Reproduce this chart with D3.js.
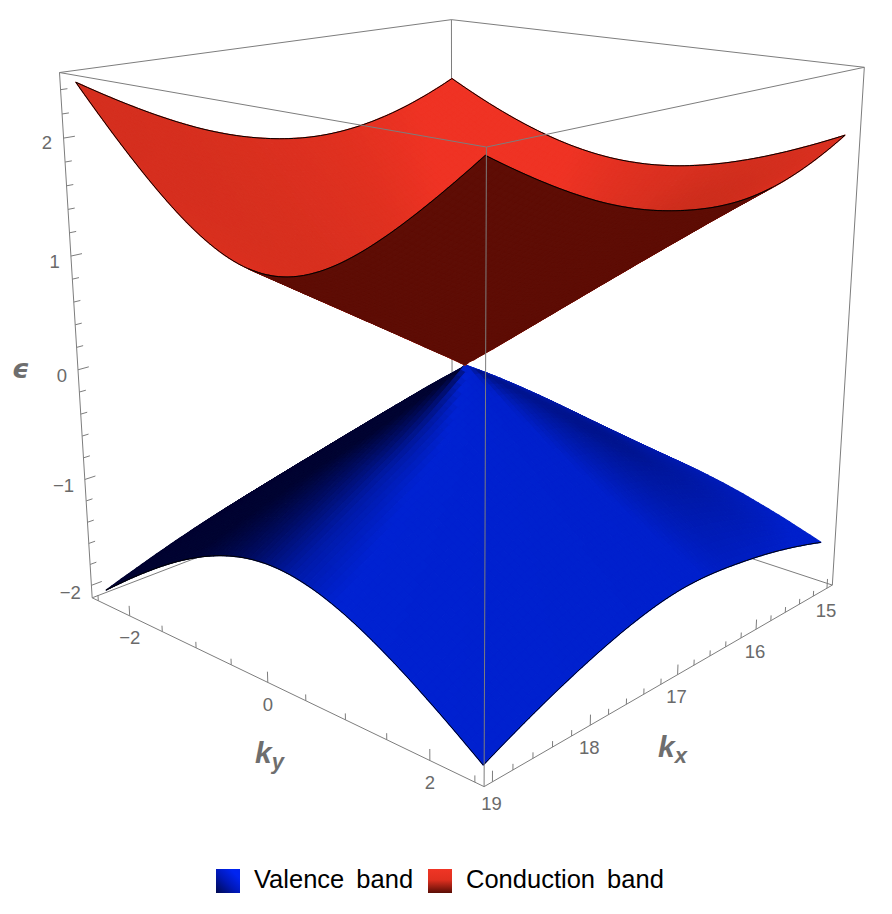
<!DOCTYPE html>
<html><head><meta charset="utf-8">
<style>html,body{margin:0;padding:0;background:#fff}svg{display:block}</style>
<script src="https://cdn.jsdelivr.net/npm/d3@7"></script></head>
<body><div id="chart"></div>
<script>
// ---------- data ----------
const kxSamples = [15, 16, 17, 18, 19];
const kySamples = [-2.5, -2, -1.5, -1, -0.5, 0, 0.5, 1, 1.5, 2, 2.5];
const conductionBand = [
  [1.973, 1.799, 1.652, 1.538, 1.465, 1.44, 1.465, 1.538, 1.652, 1.799, 1.973],
  [1.69, 1.404, 1.132, 0.889, 0.704, 0.63, 0.704, 0.889, 1.132, 1.404, 1.69],
  [1.68, 1.344, 1.008, 0.672, 0.336, 0.00, 0.342, 0.684, 1.026, 1.368, 1.71],
  [1.96, 1.613, 1.279, 0.974, 0.731, 0.63, 0.733, 0.98, 1.29, 1.629, 1.98],
  [2.46, 2.106, 1.783, 1.51, 1.32, 1.25, 1.32, 1.51, 1.783, 2.106, 2.46]
];
const valenceBand = [
  [-1.703, -1.57, -1.458, -1.372, -1.318, -1.30, -1.318, -1.372, -1.458, -1.57, -1.703],
  [-1.50, -1.256, -1.028, -0.826, -0.677, -0.62, -0.677, -0.826, -1.028, -1.256, -1.50],
  [-1.55, -1.24, -0.93, -0.62, -0.31, 0.00, -0.29, -0.58, -0.87, -1.16, -1.45],
  [-1.75, -1.448, -1.161, -0.902, -0.701, -0.62, -0.692, -0.874, -1.113, -1.379, -1.66],
  [-2.048, -1.776, -1.53, -1.328, -1.19, -1.14, -1.188, -1.321, -1.517, -1.755, -2.02]
];
const kxDomain = [14.92, 19.08];
const kyDomain = [-2.6, 2.6];
const epsDomain = [-2.12, 2.54];
const kxTicks = d3.range(15, 19.01, 0.2).map(v => +v.toFixed(1));
const kyTicks = d3.range(-2.5, 2.51, 0.5);
const epsTicks = d3.range(-2, 2.41, 0.2).map(v => +v.toFixed(1));
const kxTickLabels = [15, 16, 17, 18, 19];
const kyTickLabels = [-2, 0, 2];
const epsTickLabels = [-2, -1, 0, 1, 2];
const legendLabels = ["Valence band", "Conduction band"];

// ---------- camera: where the box corners land on the page ----------
const W = 892, H = 914;
const boxAnchors = [
  [1,0,0, 92.3,599.3],[1,0,1, 59.3,72.7],
  [1,1,0, 484.3,785.3],[1,1,1, 486.3,146.3],
  [0,1,0, 832.3,586.7],[0,1,1, 864.3,67.3],
  [0,0,0, 452,458],[0,0,1, 451.7,20]
];
function solveCamera(anchors){
  const A=[],b=[];
  anchors.forEach(([a,c,e,x,y])=>{
    x/=1000;y/=1000;
    A.push([a,c,e,1,0,0,0,0,-x*a,-x*c,-x*e]);b.push(x);
    A.push([0,0,0,0,a,c,e,1,-y*a,-y*c,-y*e]);b.push(y);
  });
  const n=11,M=d3.range(n).map(i=>d3.range(n+1).map(j=>{
    if(j<n)return d3.sum(A,r=>r[i]*r[j]);
    return d3.sum(A,(r,k)=>r[i]*b[k]);
  }));
  for(let i=0;i<n;i++){
    let p=i;for(let r=i+1;r<n;r++)if(Math.abs(M[r][i])>Math.abs(M[p][i]))p=r;
    [M[i],M[p]]=[M[p],M[i]];
    for(let r=0;r<n;r++){if(r===i)continue;const f=M[r][i]/M[i][i];
      for(let c=i;c<=n;c++)M[r][c]-=f*M[i][c];}
  }
  return d3.range(n).map(i=>M[i][n]/M[i][i]);
}
const cam=solveCamera(boxAnchors);
const xN=d3.scaleLinear().domain(kxDomain).range([0,1]);
const yN=d3.scaleLinear().domain(kyDomain).range([0,1]);
const zN=d3.scaleLinear().domain(epsDomain).range([0,1]);
function project(kx,ky,e){
  const a=xN(kx),c=yN(ky),z=zN(e);
  const w=cam[8]*a+cam[9]*c+cam[10]*z+1;
  return [1000*(cam[0]*a+cam[1]*c+cam[2]*z+cam[3])/w,
          1000*(cam[4]*a+cam[5]*c+cam[6]*z+cam[7])/w, w];
}

// ---------- smooth sampling of the read values (on the squared band) ----------
function cr(p0,p1,p2,p3,t){
  return 0.5*(2*p1+(p2-p0)*t+(2*p0-5*p1+4*p2-p3)*t*t+(3*p1-p0-3*p2+p3)*t*t*t);
}
function at(arr,i){
  const n=arr.length;
  if(i<0)return 3*arr[0]-3*arr[1]+arr[2];
  if(i>=n)return 3*arr[n-1]-3*arr[n-2]+arr[n-3];
  return arr[i];
}
function sampler(grid,sign){
  const sq=grid.map(r=>r.map(v=>v*v));
  return function(kx,ky){
    const fx=(kx-kxSamples[0])/(kxSamples[1]-kxSamples[0]);
    const fy=(ky-kySamples[0])/(kySamples[1]-kySamples[0]);
    const ix=Math.min(Math.floor(fx),kxSamples.length-2),iy=Math.min(Math.floor(fy),kySamples.length-2);
    const tx=fx-ix,ty=fy-iy;
    const col=[-1,0,1,2].map(d=>{
      const row=d3.range(iy-1,iy+3).map(j=>{
        const rowAt=q=>at(sq.map(r=>r[q]),ix+d);
        const m=kySamples.length;
        if(j<0)return 3*rowAt(0)-3*rowAt(1)+rowAt(2);
        if(j>=m)return 3*rowAt(m-1)-3*rowAt(m-2)+rowAt(m-3);
        return rowAt(j);
      });
      return cr(row[0],row[1],row[2],row[3],ty);
    });
    return sign*Math.sqrt(Math.max(0,cr(col[0],col[1],col[2],col[3],tx)));
  };
}

// ---------- shading ----------
const blueShade=d3.scaleLinear()
  .domain([-0.8,-0.68,-0.55,0.1,0.3,0.52,0.7])
  .range(["#000850","#00179c","#0020cc","#0022d2","#001aa8","#000c62","#000432"])
  .clamp(true);
const redShade=d3.scaleLinear()
  .domain([-0.95,-0.55,-0.2,0.4,0.68,0.85,1])
  .range(["#d42f1f","#e03120","#ef3324","#ef3324","#d93020","#ba2a18","#962212"])
  .clamp(true);
const undersideColor="#5e0d05";

const nK=80;
const svg=d3.select("#chart").append("svg").attr("width",W).attr("height",H);

function surfaceCells(f,shade,showUnder){
  const kxs=d3.range(nK+1).map(i=>15+4*i/nK), kys=d3.range(nK+1).map(i=>-2.5+5*i/nK);
  const Z=kxs.map(x=>kys.map(y=>f(x,y)));
  const P=kxs.map((x,i)=>kys.map((y,j)=>project(x,y,Z[i][j])));
  const ref=[project(15,-2.5,0),project(19,-2.5,0),project(19,2.5,0)];
  const area=(a,b,c)=>(b[0]-a[0])*(c[1]-a[1])-(b[1]-a[1])*(c[0]-a[0]);
  const upSign=Math.sign(area(ref[0],ref[1],ref[2]));
  const cells=[];
  const du=(4/nK)/2,dv=(5/nK)/2.5,dw=2.3;
  for(let i=0;i<nK;i++)for(let j=0;j<nK;j++){
    const q=[P[i][j],P[i+1][j],P[i+1][j+1],P[i][j+1]];
    const s=area(q[0],q[1],q[2])+area(q[0],q[2],q[3]);
    const gu=((Z[i+1][j]+Z[i+1][j+1]-Z[i][j]-Z[i][j+1])/2)/du/dw;
    const gv=((Z[i][j+1]+Z[i+1][j+1]-Z[i][j]-Z[i+1][j])/2)/dv/dw;
    const len=Math.hypot(gu,gv,1);
    const d=(-gu+gv)/len;
    const up=Math.sign(s)===upSign;
    cells.push({q,depth:d3.mean(q,p=>p[2]),
      fill:(up||!showUnder)?shade(d):undersideColor});
  }
  return cells.sort((a,b)=>b.depth-a.depth);
}
const line=d3.line();
const cellPath=c=>line(c.q.map(p=>[p[0],p[1]]))+"Z";
const gridGray="#7d7d7d";

function seg(g,a,b,w,col){
  const p=project(...a),q=project(...b);
  g.append("line").attr("x1",p[0]).attr("y1",p[1]).attr("x2",q[0]).attr("y2",q[1])
   .attr("stroke",col||gridGray).attr("stroke-width",w||1);
}
const [x0,x1]=kxDomain,[y0,y1]=kyDomain,[z0,z1]=epsDomain;

// back of the box
const back=svg.append("g");
seg(back,[x0,y0,z0],[x0,y0,z1]);
seg(back,[x0,y0,z0],[x1,y0,z0]);
seg(back,[x0,y0,z0],[x0,y1,z0]);
seg(back,[x0,y0,z1],[x1,y0,z1]);
seg(back,[x0,y0,z1],[x0,y1,z1]);

// surfaces
const fCond=sampler(conductionBand,1), fVal=sampler(valenceBand,-1);
[[fVal,blueShade,false],[fCond,redShade,true]].forEach(([f,sh,u])=>{
  svg.append("g").selectAll("path").data(surfaceCells(f,sh,u)).join("path")
    .attr("d",cellPath).attr("fill",d=>d.fill).attr("stroke",d=>d.fill).attr("stroke-width",1.2).attr("stroke-linejoin","round");
});

// surface edges
const edgeLine=d3.line();
const steps=d3.range(0,nK+1).map(i=>i/nK);
const edgeSets=[
  [fVal,[t=>[19,-2.5+5*t],t=>[15+4*t,2.5]]],
  [fCond,[t=>[19,-2.5+5*t],t=>[15+4*t,2.5],t=>[15,-2.5+5*t],t=>[15+4*t,-2.5]]]
];
const edges=svg.append("g");
edgeSets.forEach(([f,list])=>list.forEach(e=>{
  edges.append("path").attr("fill","none").attr("stroke","#000").attr("stroke-width",1)
    .attr("d",edgeLine(steps.map(t=>{const [a,b]=e(t);const p=project(a,b,f(a,b));return [p[0],p[1]];})));
}));

// front of the box
const front=svg.append("g");
seg(front,[x1,y1,z0],[x1,y1,z1]);
seg(front,[x1,y0,z0],[x1,y0,z1]);
seg(front,[x0,y1,z0],[x0,y1,z1]);
seg(front,[x1,y0,z1],[x1,y1,z1]);
seg(front,[x0,y1,z1],[x1,y1,z1]);
seg(front,[x1,y0,z0],[x1,y1,z0]);
seg(front,[x0,y1,z0],[x1,y1,z0]);

// ticks
const tickG=svg.append("g");
kyTicks.forEach(v=>{const major=kyTickLabels.includes(v);seg(tickG,[x1,v,z0],[x1,v,z0+(major?0.095:0.055)]);});
kxTicks.forEach(v=>{const major=kxTickLabels.includes(v);seg(tickG,[v,y1,z0],[v,y1,z0+(major?0.09:0.05)]);});
epsTicks.forEach(v=>{const major=epsTickLabels.includes(v);seg(tickG,[x1,y0,v],[x1-(major?0.1:0.06),y0,v]);});

const tickFont={family:"'Liberation Sans',Arial,sans-serif",size:18.5,color:"#6a6a6a"};
function label(g,txt,x,y,anchor){
  g.append("text").attr("x",x).attr("y",y).attr("text-anchor",anchor)
   .attr("font-family",tickFont.family).attr("font-size",tickFont.size).attr("fill",tickFont.color).text(txt);
}
const fmt=v=>v<0?"\u2212"+Math.abs(v):String(v);
const labG=svg.append("g");
kyTickLabels.forEach(v=>{const p=project(x1,v,z0);label(labG,fmt(v),p[0],p[1]+28.5,"middle");});
kxTickLabels.forEach(v=>{const p=project(v,y1,z0);label(labG,fmt(v),p[0]-1,p[1]+28.5,"middle");});
epsTickLabels.forEach(v=>{const p=project(x1+0.1,y0,v);label(labG,fmt(v),p[0],p[1]+9.5,"end");});

// axis titles
function axisTitle(x,y,main,sub){
  const t=svg.append("text").attr("x",x).attr("y",y).attr("font-family","'Liberation Sans',Arial,sans-serif")
    .attr("font-size",30).attr("font-weight","bold").attr("font-style","italic").attr("fill","#6e6e6e");
  t.append("tspan").text(main);
  t.append("tspan").attr("dy",6).attr("font-size",22).text(sub);
}
axisTitle(658,757,"k","x");
axisTitle(255,763,"k","y");
svg.append("text").attr("x",12).attr("y",378).attr("font-family","'DejaVu Sans',sans-serif")
  .attr("font-size",27).attr("font-weight","bold").attr("font-style","italic").attr("fill","#6e6e6e").text("\u03f5");

// legend
const defs=svg.append("defs");
const gb=defs.append("linearGradient").attr("id","gb").attr("x1",0).attr("y1",1).attr("x2",1).attr("y2",0);
gb.append("stop").attr("offset","0").attr("stop-color","#000a50");
gb.append("stop").attr("offset","0.45").attr("stop-color","#0018b8");
gb.append("stop").attr("offset","0.8").attr("stop-color","#0024f0");
const gr=defs.append("linearGradient").attr("id","gr").attr("x1",0).attr("y1",0).attr("x2",0).attr("y2",1);
gr.append("stop").attr("offset","0").attr("stop-color","#f03525");
gr.append("stop").attr("offset","0.45").attr("stop-color","#e03020");
gr.append("stop").attr("offset","1").attr("stop-color","#5a0d05");
const legendItems=[{x:216,tx:254,fill:"url(#gb)"},{x:428,tx:466,fill:"url(#gr)"}];
legendItems.forEach((it,i)=>{
  svg.append("rect").attr("x",it.x).attr("y",869).attr("width",24).attr("height",24).attr("fill",it.fill);
  svg.append("text").attr("x",it.tx).attr("y",887.5).attr("font-family","'Liberation Sans',Arial,sans-serif")
    .attr("font-size",25.5).attr("word-spacing",5).attr("fill","#000").text(legendLabels[i]);
});
</script></body></html>
